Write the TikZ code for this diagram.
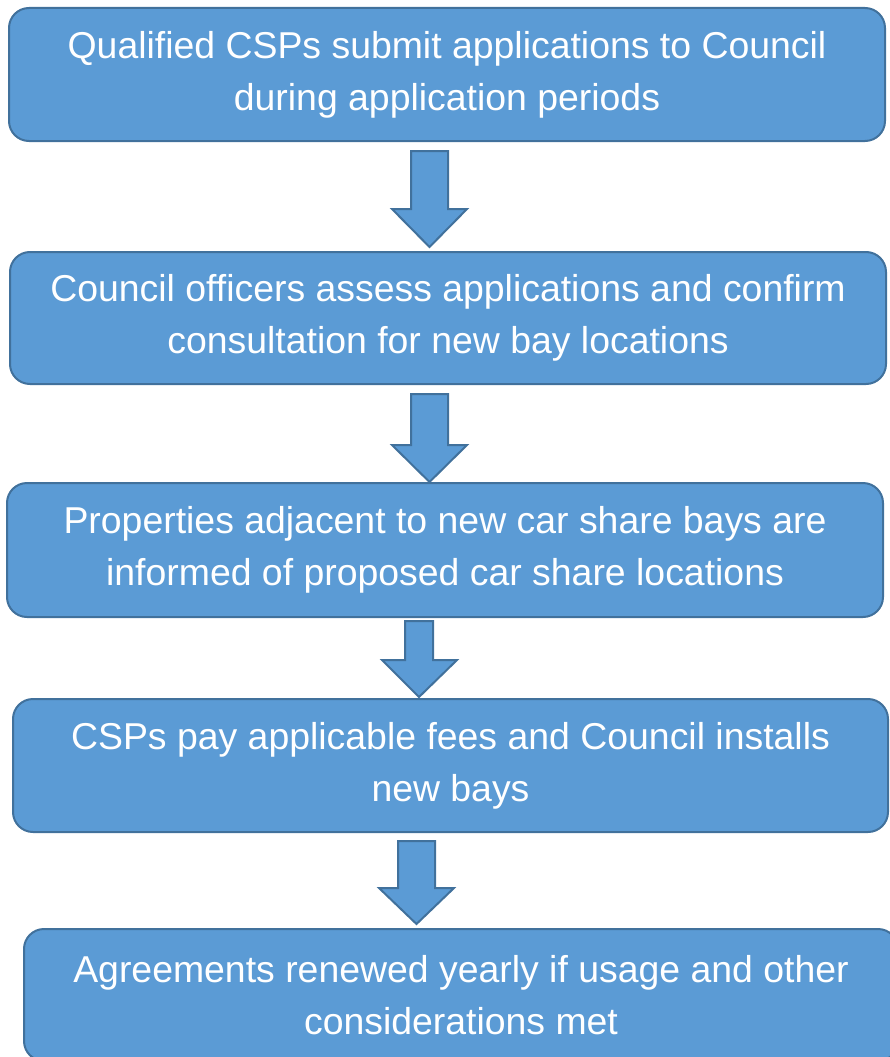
\documentclass[tikz,border=0pt]{standalone}
\usepackage{fontspec}
\setmainfont{Liberation Sans}
\definecolor{boxfill}{HTML}{5B9BD5}
\definecolor{boxline}{HTML}{41719C}
\tikzset{
  stepbox/.style={draw=boxline, line width=2pt, fill=boxfill, rounded corners=20pt,
    inner sep=0pt, align=center, text=white, font=\fontsize{37.4}{52}\selectfont},
  arr/.style={draw=boxline, line width=2pt, fill=boxfill, line join=miter}
}
\newcommand\blockarr[8]{\draw[arr] (#1,#3) -- (#2,#3) -- (#2,#4) -- (#6,#4) -- (#7,#8) -- (#5,#4) -- (#1,#4) -- cycle;}
\begin{document}
\begin{tikzpicture}[x=1pt,y=-1pt]
\useasboundingbox (0,0) rectangle (890,1057);
\clip (0,0) rectangle (890,1057);
\node[stepbox, minimum width=876pt, minimum height=133pt] (b1) at (447,74.5)
  {Qualified CSPs submit applications to Council\\during application periods};
\node[stepbox, minimum width=876pt, minimum height=132pt] (b2) at (448,318)
  {Council officers assess applications and confirm\\consultation for new bay locations};
\node[stepbox, minimum width=876pt, minimum height=134pt] (b3) at (445,550)
  {Properties adjacent to new car share bays are\\informed of proposed car share locations};
\node[stepbox, minimum width=875pt, minimum height=133pt] (b4) at (450.5,765.5)
  {CSPs pay applicable fees and Council installs\\new bays};
\node[stepbox, minimum width=874pt, minimum height=132pt] (b5) at (461,995)
  {Agreements renewed yearly if usage and other\\considerations met};
\blockarr{411}{448}{151}{209}{392}{467}{429.5}{247}
\blockarr{411}{448}{394}{445}{392}{467}{429.5}{482}
\blockarr{405}{433}{621}{660}{382}{457}{419}{697}
\blockarr{398}{435}{841}{888}{379}{454}{416.5}{924}
\end{tikzpicture}
\end{document}
